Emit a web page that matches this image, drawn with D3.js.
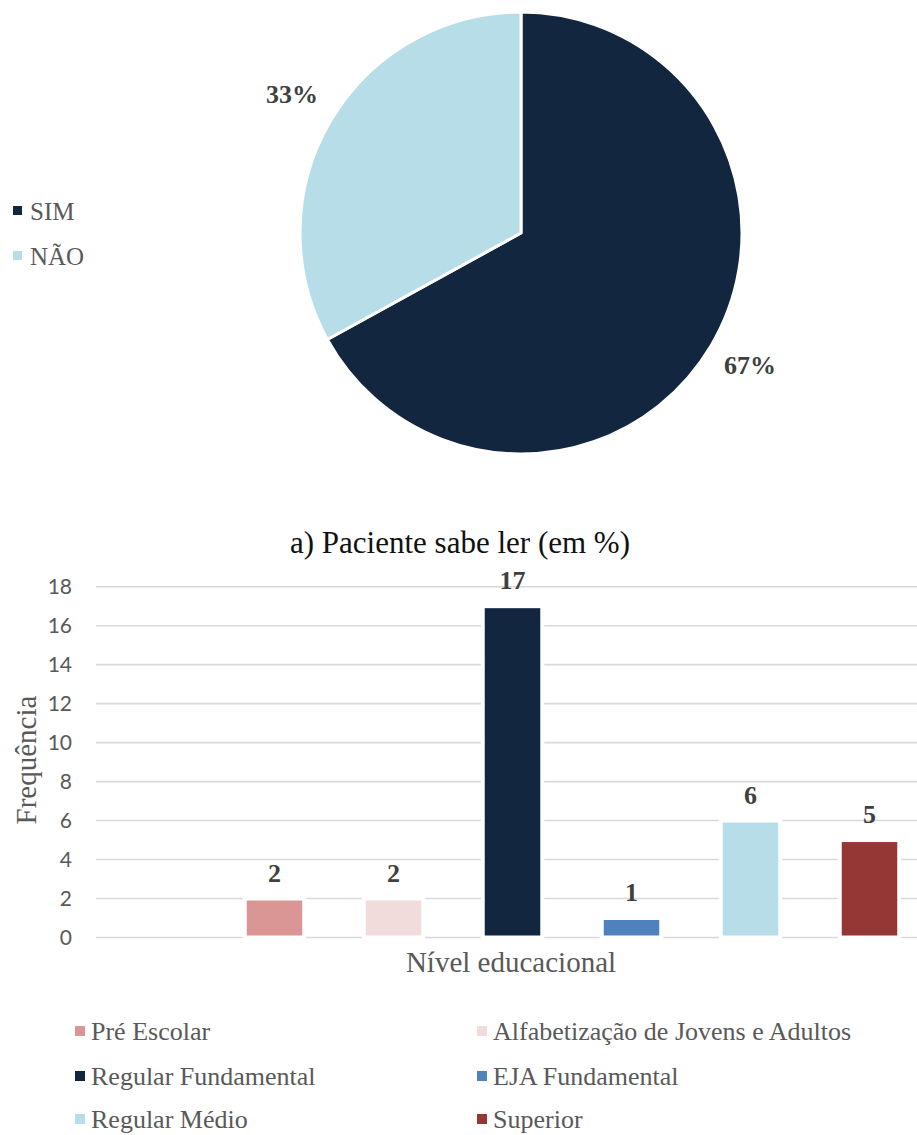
<!DOCTYPE html>
<html>
<head>
<meta charset="utf-8">
<script src="https://cdn.jsdelivr.net/npm/d3@7/dist/d3.min.js"></script>
<style>
  body { margin: 0; background: #fff; }
  svg { display: block; }
  .serif { font-family: 'Liberation Serif', 'Times New Roman', Times, 'DejaVu Serif', serif; }
  .sans { font-family: Lato, 'Open Sans', sans-serif; }
</style>
</head>
<body>
<div id="chart"></div>
<script>
/* Pie (a) + bar chart of educational level */

// data
const leituraLabels = ['SIM', 'NÃO'];
const leituraValues = [67, 33];
const leituraColors = ['#12263F', '#B7DDE8'];

const niveis = ['Pré Escolar', 'Alfabetização de Jovens e Adultos', 'Regular Fundamental',
  'EJA Fundamental', 'Regular Médio', 'Superior'];
const frequencias = [2, 2, 17, 1, 6, 5];
const nivelColors = ['#D99694', '#F2DCDB', '#12263F', '#4F81BD', '#B7DDE8', '#953735'];
const slots = [''].concat(niveis); // first category slot is empty in the original
const yTicks = [0, 2, 4, 6, 8, 10, 12, 14, 16, 18];

const W = 917, H = 1135;

const svg = d3.select('#chart').append('svg')
  .attr('width', W).attr('height', H);

/* PIE */
const cx = 521, cy = 233, R = 221;
const pie = d3.pie().sort(null).value(d => d.v);
const arcs = pie(leituraLabels.map((l, i) => ({ l: l, v: leituraValues[i], c: leituraColors[i] })));
const arc = d3.arc().innerRadius(0).outerRadius(R);
const labelArc = d3.arc().innerRadius(266).outerRadius(266);

const gPie = svg.append('g').attr('transform', `translate(${cx},${cy})`);
gPie.selectAll('path')
  .data(arcs)
  .enter().append('path')
  .attr('d', arc)
  .attr('fill', d => d.data.c)
  .attr('stroke', '#fff')
  .attr('stroke-width', 3)
  .attr('stroke-linejoin', 'round');

gPie.selectAll('.pct')
  .data(arcs)
  .enter().append('text')
  .attr('class', 'pct serif')
  .attr('transform', d => `translate(${labelArc.centroid(d)})`)
  .attr('text-anchor', 'middle')
  .attr('dy', '0.2em')
  .style('font-weight', 'bold')
  .style('font-size', '26px')
  .style('fill', '#404040')
  .text(d => d.data.v + '%');

// pie legend
const pieLeg = svg.append('g').attr('transform', 'translate(13,211)');
leituraLabels.forEach((l, i) => {
  const g = pieLeg.append('g').attr('transform', `translate(0,${i * 45})`);
  g.append('rect').attr('x', 0).attr('y', -5).attr('width', 9).attr('height', 9)
    .attr('fill', leituraColors[i]);
  g.append('text').attr('class', 'serif').attr('x', 17).attr('dy', '0.35em')
    .style('font-size', '25px').style('fill', '#595959')
    .text(l);
});

svg.append('text')
  .attr('class', 'serif')
  .attr('x', 460).attr('y', 553)
  .attr('text-anchor', 'middle')
  .style('font-size', '31px').style('fill', '#111')
  .text('a) Paciente sabe ler (em %)');

/* BARS */
const x = d3.scaleBand().domain(slots).range([96, 929]).paddingInner(0.5).paddingOuter(0.25);
const y = d3.scaleLinear().domain([0, 18]).range([937.5, 586.7]);

svg.append('g').selectAll('line')
  .data(yTicks)
  .enter().append('line')
  .attr('x1', 96).attr('x2', 929)
  .attr('y1', d => y(d)).attr('y2', d => y(d))
  .attr('stroke', '#D9D9D9').attr('stroke-width', 1.6);

const yAxis = svg.append('g')
  .attr('transform', 'translate(96,0)')
  .call(d3.axisLeft(y).tickValues(yTicks).tickSize(0).tickPadding(24));
yAxis.select('.domain').remove();
yAxis.attr('font-family', null);
yAxis.selectAll('text')
  .attr('class', 'sans')
  .style('font-size', '21px').style('fill', '#595959');

const bars = niveis.map((n, i) => ({ n: n, v: frequencias[i], c: nivelColors[i] }));

svg.append('g').selectAll('rect')
  .data(bars)
  .enter().append('rect')
  .attr('x', d => x(d.n))
  .attr('width', x.bandwidth())
  .attr('y', d => y(d.v))
  .attr('height', d => y(0) - y(d.v))
  .attr('fill', d => d.c)
  .attr('stroke', '#fff')
  .attr('stroke-width', 4);

svg.append('g').selectAll('text')
  .data(bars)
  .enter().append('text')
  .attr('class', 'serif')
  .attr('x', d => x(d.n) + x.bandwidth() / 2)
  .attr('y', d => y(d.v) - 17)
  .attr('text-anchor', 'middle')
  .style('font-weight', 'bold')
  .style('font-size', '26px').style('fill', '#404040')
  .text(d => d.v);

svg.append('text')
  .attr('class', 'serif')
  .attr('transform', 'translate(36,760) rotate(-90)')
  .attr('text-anchor', 'middle')
  .style('font-size', '29px').style('fill', '#595959')
  .text('Frequência');

svg.append('text')
  .attr('class', 'serif')
  .attr('x', 511).attr('y', 972)
  .attr('text-anchor', 'middle')
  .style('font-size', '29px').style('fill', '#595959')
  .text('Nível educacional');

// bar legend, two columns
const legCols = [75, 477];
const legRows = [1031, 1076, 1119];
const barLeg = svg.append('g');
niveis.forEach((n, i) => {
  const g = barLeg.append('g')
    .attr('transform', `translate(${legCols[i % 2]},${legRows[Math.floor(i / 2)]})`);
  g.append('rect').attr('x', 0).attr('y', -5).attr('width', 10).attr('height', 10)
    .attr('fill', nivelColors[i]);
  g.append('text').attr('class', 'serif').attr('x', 16).attr('dy', '0.35em')
    .style('font-size', '26px').style('fill', '#595959')
    .text(n);
});
</script>
</body>
</html>
